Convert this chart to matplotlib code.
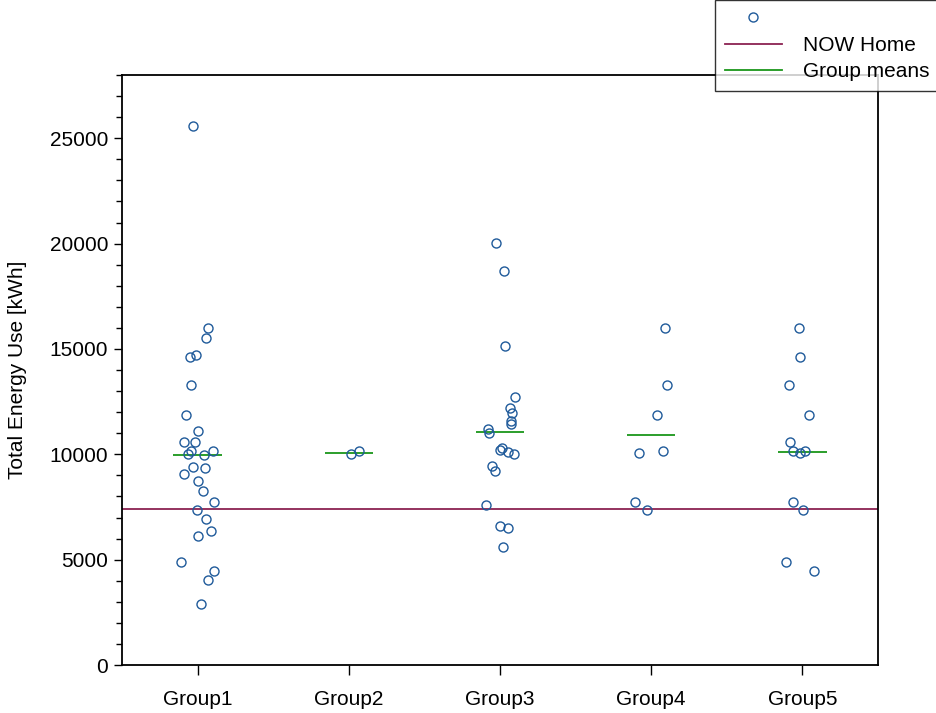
"""
Strip chart of total energy use per group
"""
import matplotlib
matplotlib.use("Agg")
import matplotlib.pyplot as plt
from matplotlib.lines import Line2D
from matplotlib.ticker import MultipleLocator

plt.rcParams['font.family'] = ['Liberation Sans', 'DejaVu Sans']

groups = ['Group1', 'Group2', 'Group3', 'Group4', 'Group5']

group1 = [25600, 16000, 15500, 14700, 14600, 13300, 11850, 11100, 10600, 10600,
          10150, 10150, 10000, 9950, 9400, 9350, 9050, 8750, 8250, 7750,
          7350, 6950, 6350, 6100, 4900, 4450, 4050, 2900]
group2 = [10000, 10150]
group3 = [20050, 18700, 15150, 12700, 12200, 11950, 11600, 11450, 11200, 11000,
          10300, 10200, 10100, 10000, 9450, 9200, 7600, 6600, 6500, 5600]
group4 = [16000, 13300, 11850, 10150, 10050, 7750, 7350]
group5 = [16000, 14600, 13300, 11850, 10600, 10150, 10150, 10050, 7750, 7350,
          4900, 4450]
values = [group1, group2, group3, group4, group5]

now_home = 7400

# horizontal jitter as drawn in the reference (fraction of group spacing)
jitter = [
    [-0.03, 0.07, 0.055, -0.01, -0.05, -0.045, -0.075, 0.005, -0.09, -0.015,
     0.10, -0.045, -0.065, 0.04, -0.03, 0.05, -0.09, 0.0, 0.035, 0.11,
     -0.005, 0.055, 0.09, 0.005, -0.11, 0.11, 0.07, 0.02],
    [0.015, 0.07],
    [-0.025, 0.025, 0.03, 0.10, 0.065, 0.08, 0.07, 0.075, -0.08, -0.07,
     0.015, 0.0, 0.05, 0.09, -0.05, -0.03, -0.095, 0.0, 0.05, 0.02],
    [0.09, 0.105, 0.04, 0.08, -0.08, -0.105, -0.025],
    [-0.02, -0.015, -0.09, 0.045, -0.08, -0.06, 0.02, -0.015, -0.06, 0.005,
     -0.11, 0.075],
]

point_color = '#1f5a9a'
now_color = '#8b2252'
mean_color = '#1a961a'

fig = plt.figure(figsize=(9.36, 7.13), dpi=100)
ax = fig.add_axes([0.1303, 0.0673, 0.8077, 0.8275])

for i, (vals, jit) in enumerate(zip(values, jitter)):
    pos = i + 1
    xs = [pos + j for j in jit]
    ax.plot(xs, vals, 'o', mfc='none', mec=point_color, mew=1.0, ms=6.5,
            zorder=3)
    mean = sum(vals) / len(vals)
    ax.hlines(mean, pos - 0.16, pos + 0.16, color=mean_color, lw=1.3, zorder=2)

ax.axhline(now_home, color=now_color, lw=1.3, zorder=2)

ax.set_xlim(0.5, 5.5)
ax.set_ylim(0, 28000)
ax.set_xticks(range(1, len(groups) + 1))
ax.set_xticklabels(groups)
ax.yaxis.set_major_locator(MultipleLocator(5000))
ax.yaxis.set_minor_locator(MultipleLocator(1000))
ax.tick_params(axis='x', length=7, width=1, pad=11, labelsize=15)
ax.tick_params(axis='y', which='major', length=6, width=1, pad=4, labelsize=15)
ax.tick_params(axis='y', which='minor', length=4, width=1)
for s in ax.spines.values():
    s.set_linewidth(1.3)
ax.set_ylabel('Total Energy Use [kWh]', fontsize=15, labelpad=16)

handles = [
    Line2D([], [], ls='none', marker='o', mfc='none', mec=point_color,
           mew=1.0, ms=6.5),
    Line2D([], [], color=now_color, lw=1.3),
    Line2D([], [], color=mean_color, lw=1.3),
]
leg = fig.legend(handles, ['', 'NOW Home', 'Group means'],
                 loc='upper right', bbox_to_anchor=(1.003, 1.0),
                 fontsize=15, frameon=True, fancybox=False,
                 borderaxespad=0, handlelength=2.75, handletextpad=1.0,
                 labelspacing=0.36, borderpad=0.45)
leg.get_frame().set_edgecolor('black')
leg.get_frame().set_linewidth(1.0)

fig.savefig('out.png', dpi=100)
